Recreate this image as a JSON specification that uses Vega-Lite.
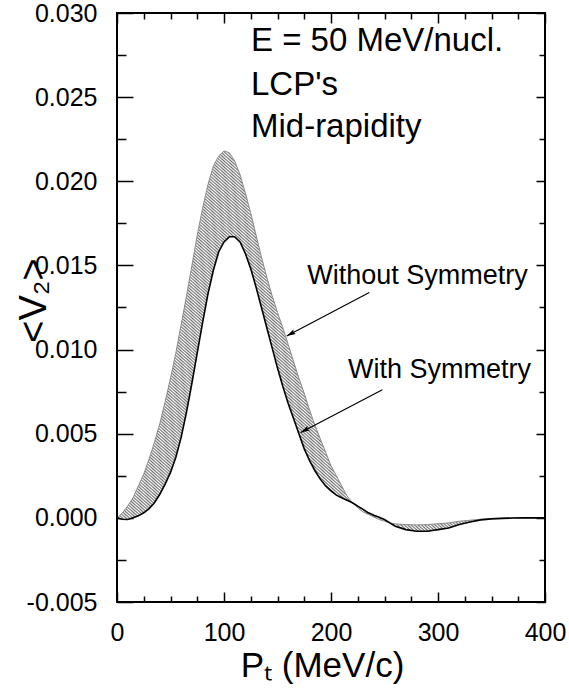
{
  "$schema": "https://vega.github.io/schema/vega-lite/v6.json",
  "width": 428,
  "height": 589,
  "autosize": {"type": "none"},
  "padding": {"left": 117, "top": 13, "right": 24, "bottom": 89},
  "background": "white",
  "config": {
    "font": "Liberation Sans",
    "view": {"stroke": "black", "strokeWidth": 2},
    "axis": {
      "grid": false,
      "domain": false,
      "zindex": 1,
      "tickColor": "black",
      "tickWidth": 1.5,
      "tickOpacity": 1,
      "labelColor": "black",
      "titleColor": "black",
      "labelFont": "Liberation Sans",
      "titleFont": "Liberation Sans",
      "titleFontWeight": "normal",
      "labelFlush": false,
      "labelOverlap": false,
      "labelBound": false
    }
  },
  "datasets": {
    "curves": [
      {"pt": 0, "with": 0.0, "without": 0.0},
      {"pt": 5, "with": -0.00008, "without": 0.0003},
      {"pt": 10, "with": -0.0001, "without": 0.0007},
      {"pt": 15, "with": 0.0, "without": 0.0012},
      {"pt": 20, "with": 0.00012, "without": 0.0019},
      {"pt": 25, "with": 0.0003, "without": 0.0026},
      {"pt": 30, "with": 0.00055, "without": 0.0035},
      {"pt": 35, "with": 0.0009, "without": 0.0045},
      {"pt": 40, "with": 0.0014, "without": 0.0056},
      {"pt": 45, "with": 0.002, "without": 0.0069},
      {"pt": 50, "with": 0.0027, "without": 0.0083},
      {"pt": 55, "with": 0.0036, "without": 0.0098},
      {"pt": 60, "with": 0.0048, "without": 0.0115},
      {"pt": 65, "with": 0.0063, "without": 0.0132},
      {"pt": 70, "with": 0.008, "without": 0.015},
      {"pt": 75, "with": 0.0098, "without": 0.0168},
      {"pt": 80, "with": 0.0116, "without": 0.0184},
      {"pt": 85, "with": 0.0133, "without": 0.0198},
      {"pt": 90, "with": 0.0147, "without": 0.0209},
      {"pt": 95, "with": 0.0158, "without": 0.0215},
      {"pt": 100, "with": 0.0164, "without": 0.0218},
      {"pt": 105, "with": 0.0167, "without": 0.0217},
      {"pt": 110, "with": 0.0167, "without": 0.0212},
      {"pt": 115, "with": 0.0164, "without": 0.0204},
      {"pt": 120, "with": 0.0157, "without": 0.0193},
      {"pt": 125, "with": 0.0148, "without": 0.0181},
      {"pt": 130, "with": 0.0137, "without": 0.0168},
      {"pt": 135, "with": 0.0125, "without": 0.0155},
      {"pt": 140, "with": 0.0113, "without": 0.0143},
      {"pt": 145, "with": 0.0101, "without": 0.0132},
      {"pt": 150, "with": 0.0089, "without": 0.0122},
      {"pt": 155, "with": 0.0078, "without": 0.0113},
      {"pt": 160, "with": 0.0068, "without": 0.0103},
      {"pt": 165, "with": 0.0059, "without": 0.0093},
      {"pt": 170, "with": 0.005, "without": 0.0083},
      {"pt": 175, "with": 0.0041, "without": 0.0074},
      {"pt": 180, "with": 0.0034, "without": 0.0064},
      {"pt": 185, "with": 0.0028, "without": 0.0055},
      {"pt": 190, "with": 0.0023, "without": 0.0047},
      {"pt": 195, "with": 0.0019, "without": 0.0039},
      {"pt": 200, "with": 0.0016, "without": 0.0031},
      {"pt": 205, "with": 0.00135, "without": 0.0025},
      {"pt": 210, "with": 0.0012, "without": 0.0019},
      {"pt": 215, "with": 0.00105, "without": 0.0013},
      {"pt": 220, "with": 0.0009, "without": 0.0009},
      {"pt": 225, "with": 0.0007, "without": 0.0006},
      {"pt": 230, "with": 0.0005, "without": 0.00035},
      {"pt": 235, "with": 0.0003, "without": 0.0002},
      {"pt": 240, "with": 0.00015, "without": 0.00005},
      {"pt": 245, "with": 0.00003, "without": -0.0001},
      {"pt": 250, "with": -0.0001, "without": -0.0002},
      {"pt": 255, "with": -0.0003, "without": -0.0003},
      {"pt": 260, "with": -0.0005, "without": -0.00036},
      {"pt": 270, "with": -0.0007, "without": -0.0004},
      {"pt": 280, "with": -0.0008, "without": -0.00042},
      {"pt": 290, "with": -0.0008, "without": -0.0004},
      {"pt": 300, "with": -0.0007, "without": -0.00035},
      {"pt": 310, "with": -0.0006, "without": -0.0003},
      {"pt": 320, "with": -0.0004, "without": -0.0002},
      {"pt": 330, "with": -0.00025, "without": -0.00014},
      {"pt": 340, "with": -0.00012, "without": -0.00008},
      {"pt": 350, "with": -0.00006, "without": -0.00004},
      {"pt": 360, "with": -0.00003, "without": -0.00002},
      {"pt": 370, "with": -0.00001, "without": 0.0},
      {"pt": 380, "with": 0.0, "without": 0.0},
      {"pt": 390, "with": 0.0, "without": 0.0},
      {"pt": 400, "with": 0.0, "without": 0.0}
    ],
    "info": [
      {"x": 125.2, "y": 0.02776, "text": "E = 50 MeV/nucl."},
      {"x": 125.2, "y": 0.02513, "text": "LCP's"},
      {"x": 125.2, "y": 0.02263, "text": "Mid-rapidity"}
    ],
    "labels": [
      {"x": 280.8, "y": 0.01389, "text": "Without Symmetry"},
      {"x": 301.4, "y": 0.0083, "text": "With Symmetry"}
    ],
    "arrows": [
      {"x": 235.8, "y": 0.01339, "x2": 158.6, "y2": 0.01081},
      {"x": 248.0, "y": 0.00761, "x2": 171.7, "y2": 0.00507}
    ]
  },
  "layer": [
    {
      "data": {"name": "curves"},
      "mark": {"type": "area", "stroke": null, "fill": {"gradient": "linear", "x1": 0, "y1": 1, "x2": 1, "y2": 0, "stops": [
{"offset":0.000,"color":"#707070"},{"offset":0.002,"color":"#fff"},{"offset":0.004,"color":"#707070"},{"offset":0.006,"color":"#fff"},{"offset":0.008,"color":"#707070"},{"offset":0.010,"color":"#fff"},{"offset":0.012,"color":"#707070"},{"offset":0.014,"color":"#fff"},{"offset":0.016,"color":"#707070"},{"offset":0.018,"color":"#fff"},
{"offset":0.020,"color":"#707070"},{"offset":0.022,"color":"#fff"},{"offset":0.024,"color":"#707070"},{"offset":0.026,"color":"#fff"},{"offset":0.028,"color":"#707070"},{"offset":0.030,"color":"#fff"},{"offset":0.032,"color":"#707070"},{"offset":0.034,"color":"#fff"},{"offset":0.036,"color":"#707070"},{"offset":0.038,"color":"#fff"},
{"offset":0.040,"color":"#707070"},{"offset":0.042,"color":"#fff"},{"offset":0.044,"color":"#707070"},{"offset":0.046,"color":"#fff"},{"offset":0.048,"color":"#707070"},{"offset":0.050,"color":"#fff"},{"offset":0.052,"color":"#707070"},{"offset":0.054,"color":"#fff"},{"offset":0.056,"color":"#707070"},{"offset":0.058,"color":"#fff"},
{"offset":0.060,"color":"#707070"},{"offset":0.062,"color":"#fff"},{"offset":0.064,"color":"#707070"},{"offset":0.066,"color":"#fff"},{"offset":0.068,"color":"#707070"},{"offset":0.070,"color":"#fff"},{"offset":0.072,"color":"#707070"},{"offset":0.074,"color":"#fff"},{"offset":0.076,"color":"#707070"},{"offset":0.078,"color":"#fff"},
{"offset":0.080,"color":"#707070"},{"offset":0.082,"color":"#fff"},{"offset":0.084,"color":"#707070"},{"offset":0.086,"color":"#fff"},{"offset":0.088,"color":"#707070"},{"offset":0.090,"color":"#fff"},{"offset":0.092,"color":"#707070"},{"offset":0.094,"color":"#fff"},{"offset":0.096,"color":"#707070"},{"offset":0.098,"color":"#fff"},
{"offset":0.100,"color":"#707070"},{"offset":0.102,"color":"#fff"},{"offset":0.104,"color":"#707070"},{"offset":0.106,"color":"#fff"},{"offset":0.108,"color":"#707070"},{"offset":0.110,"color":"#fff"},{"offset":0.112,"color":"#707070"},{"offset":0.114,"color":"#fff"},{"offset":0.116,"color":"#707070"},{"offset":0.118,"color":"#fff"},
{"offset":0.120,"color":"#707070"},{"offset":0.122,"color":"#fff"},{"offset":0.124,"color":"#707070"},{"offset":0.126,"color":"#fff"},{"offset":0.128,"color":"#707070"},{"offset":0.130,"color":"#fff"},{"offset":0.132,"color":"#707070"},{"offset":0.134,"color":"#fff"},{"offset":0.136,"color":"#707070"},{"offset":0.138,"color":"#fff"},
{"offset":0.140,"color":"#707070"},{"offset":0.142,"color":"#fff"},{"offset":0.144,"color":"#707070"},{"offset":0.146,"color":"#fff"},{"offset":0.148,"color":"#707070"},{"offset":0.150,"color":"#fff"},{"offset":0.152,"color":"#707070"},{"offset":0.154,"color":"#fff"},{"offset":0.156,"color":"#707070"},{"offset":0.158,"color":"#fff"},
{"offset":0.160,"color":"#707070"},{"offset":0.162,"color":"#fff"},{"offset":0.164,"color":"#707070"},{"offset":0.166,"color":"#fff"},{"offset":0.168,"color":"#707070"},{"offset":0.170,"color":"#fff"},{"offset":0.172,"color":"#707070"},{"offset":0.174,"color":"#fff"},{"offset":0.176,"color":"#707070"},{"offset":0.178,"color":"#fff"},
{"offset":0.180,"color":"#707070"},{"offset":0.182,"color":"#fff"},{"offset":0.184,"color":"#707070"},{"offset":0.186,"color":"#fff"},{"offset":0.188,"color":"#707070"},{"offset":0.190,"color":"#fff"},{"offset":0.192,"color":"#707070"},{"offset":0.194,"color":"#fff"},{"offset":0.196,"color":"#707070"},{"offset":0.198,"color":"#fff"},
{"offset":0.200,"color":"#707070"},{"offset":0.202,"color":"#fff"},{"offset":0.204,"color":"#707070"},{"offset":0.206,"color":"#fff"},{"offset":0.208,"color":"#707070"},{"offset":0.210,"color":"#fff"},{"offset":0.212,"color":"#707070"},{"offset":0.214,"color":"#fff"},{"offset":0.216,"color":"#707070"},{"offset":0.218,"color":"#fff"},
{"offset":0.220,"color":"#707070"},{"offset":0.222,"color":"#fff"},{"offset":0.224,"color":"#707070"},{"offset":0.226,"color":"#fff"},{"offset":0.228,"color":"#707070"},{"offset":0.230,"color":"#fff"},{"offset":0.232,"color":"#707070"},{"offset":0.234,"color":"#fff"},{"offset":0.236,"color":"#707070"},{"offset":0.238,"color":"#fff"},
{"offset":0.240,"color":"#707070"},{"offset":0.242,"color":"#fff"},{"offset":0.244,"color":"#707070"},{"offset":0.246,"color":"#fff"},{"offset":0.248,"color":"#707070"},{"offset":0.250,"color":"#fff"},{"offset":0.252,"color":"#707070"},{"offset":0.254,"color":"#fff"},{"offset":0.256,"color":"#707070"},{"offset":0.258,"color":"#fff"},
{"offset":0.260,"color":"#707070"},{"offset":0.262,"color":"#fff"},{"offset":0.264,"color":"#707070"},{"offset":0.266,"color":"#fff"},{"offset":0.268,"color":"#707070"},{"offset":0.270,"color":"#fff"},{"offset":0.272,"color":"#707070"},{"offset":0.274,"color":"#fff"},{"offset":0.276,"color":"#707070"},{"offset":0.278,"color":"#fff"},
{"offset":0.280,"color":"#707070"},{"offset":0.282,"color":"#fff"},{"offset":0.284,"color":"#707070"},{"offset":0.286,"color":"#fff"},{"offset":0.288,"color":"#707070"},{"offset":0.290,"color":"#fff"},{"offset":0.292,"color":"#707070"},{"offset":0.294,"color":"#fff"},{"offset":0.296,"color":"#707070"},{"offset":0.298,"color":"#fff"},
{"offset":0.300,"color":"#707070"},{"offset":0.302,"color":"#fff"},{"offset":0.304,"color":"#707070"},{"offset":0.306,"color":"#fff"},{"offset":0.308,"color":"#707070"},{"offset":0.310,"color":"#fff"},{"offset":0.312,"color":"#707070"},{"offset":0.314,"color":"#fff"},{"offset":0.316,"color":"#707070"},{"offset":0.318,"color":"#fff"},
{"offset":0.320,"color":"#707070"},{"offset":0.322,"color":"#fff"},{"offset":0.324,"color":"#707070"},{"offset":0.326,"color":"#fff"},{"offset":0.328,"color":"#707070"},{"offset":0.330,"color":"#fff"},{"offset":0.332,"color":"#707070"},{"offset":0.334,"color":"#fff"},{"offset":0.336,"color":"#707070"},{"offset":0.338,"color":"#fff"},
{"offset":0.340,"color":"#707070"},{"offset":0.342,"color":"#fff"},{"offset":0.344,"color":"#707070"},{"offset":0.346,"color":"#fff"},{"offset":0.348,"color":"#707070"},{"offset":0.350,"color":"#fff"},{"offset":0.352,"color":"#707070"},{"offset":0.354,"color":"#fff"},{"offset":0.356,"color":"#707070"},{"offset":0.358,"color":"#fff"},
{"offset":0.360,"color":"#707070"},{"offset":0.362,"color":"#fff"},{"offset":0.364,"color":"#707070"},{"offset":0.366,"color":"#fff"},{"offset":0.368,"color":"#707070"},{"offset":0.370,"color":"#fff"},{"offset":0.372,"color":"#707070"},{"offset":0.374,"color":"#fff"},{"offset":0.376,"color":"#707070"},{"offset":0.378,"color":"#fff"},
{"offset":0.380,"color":"#707070"},{"offset":0.382,"color":"#fff"},{"offset":0.384,"color":"#707070"},{"offset":0.386,"color":"#fff"},{"offset":0.388,"color":"#707070"},{"offset":0.390,"color":"#fff"},{"offset":0.392,"color":"#707070"},{"offset":0.394,"color":"#fff"},{"offset":0.396,"color":"#707070"},{"offset":0.398,"color":"#fff"},
{"offset":0.400,"color":"#707070"},{"offset":0.402,"color":"#fff"},{"offset":0.404,"color":"#707070"},{"offset":0.406,"color":"#fff"},{"offset":0.408,"color":"#707070"},{"offset":0.410,"color":"#fff"},{"offset":0.412,"color":"#707070"},{"offset":0.414,"color":"#fff"},{"offset":0.416,"color":"#707070"},{"offset":0.418,"color":"#fff"},
{"offset":0.420,"color":"#707070"},{"offset":0.422,"color":"#fff"},{"offset":0.424,"color":"#707070"},{"offset":0.426,"color":"#fff"},{"offset":0.428,"color":"#707070"},{"offset":0.430,"color":"#fff"},{"offset":0.432,"color":"#707070"},{"offset":0.434,"color":"#fff"},{"offset":0.436,"color":"#707070"},{"offset":0.438,"color":"#fff"},
{"offset":0.440,"color":"#707070"},{"offset":0.442,"color":"#fff"},{"offset":0.444,"color":"#707070"},{"offset":0.446,"color":"#fff"},{"offset":0.448,"color":"#707070"},{"offset":0.450,"color":"#fff"},{"offset":0.452,"color":"#707070"},{"offset":0.454,"color":"#fff"},{"offset":0.456,"color":"#707070"},{"offset":0.458,"color":"#fff"},
{"offset":0.460,"color":"#707070"},{"offset":0.462,"color":"#fff"},{"offset":0.464,"color":"#707070"},{"offset":0.466,"color":"#fff"},{"offset":0.468,"color":"#707070"},{"offset":0.470,"color":"#fff"},{"offset":0.472,"color":"#707070"},{"offset":0.474,"color":"#fff"},{"offset":0.476,"color":"#707070"},{"offset":0.478,"color":"#fff"},
{"offset":0.480,"color":"#707070"},{"offset":0.482,"color":"#fff"},{"offset":0.484,"color":"#707070"},{"offset":0.486,"color":"#fff"},{"offset":0.488,"color":"#707070"},{"offset":0.490,"color":"#fff"},{"offset":0.492,"color":"#707070"},{"offset":0.494,"color":"#fff"},{"offset":0.496,"color":"#707070"},{"offset":0.498,"color":"#fff"},
{"offset":0.500,"color":"#707070"},{"offset":0.502,"color":"#fff"},{"offset":0.504,"color":"#707070"},{"offset":0.506,"color":"#fff"},{"offset":0.508,"color":"#707070"},{"offset":0.510,"color":"#fff"},{"offset":0.512,"color":"#707070"},{"offset":0.514,"color":"#fff"},{"offset":0.516,"color":"#707070"},{"offset":0.518,"color":"#fff"},
{"offset":0.520,"color":"#707070"},{"offset":0.522,"color":"#fff"},{"offset":0.524,"color":"#707070"},{"offset":0.526,"color":"#fff"},{"offset":0.528,"color":"#707070"},{"offset":0.530,"color":"#fff"},{"offset":0.532,"color":"#707070"},{"offset":0.534,"color":"#fff"},{"offset":0.536,"color":"#707070"},{"offset":0.538,"color":"#fff"},
{"offset":0.540,"color":"#707070"},{"offset":0.542,"color":"#fff"},{"offset":0.544,"color":"#707070"},{"offset":0.546,"color":"#fff"},{"offset":0.548,"color":"#707070"},{"offset":0.550,"color":"#fff"},{"offset":0.552,"color":"#707070"},{"offset":0.554,"color":"#fff"},{"offset":0.556,"color":"#707070"},{"offset":0.558,"color":"#fff"},
{"offset":0.560,"color":"#707070"},{"offset":0.562,"color":"#fff"},{"offset":0.564,"color":"#707070"},{"offset":0.566,"color":"#fff"},{"offset":0.568,"color":"#707070"},{"offset":0.570,"color":"#fff"},{"offset":0.572,"color":"#707070"},{"offset":0.574,"color":"#fff"},{"offset":0.576,"color":"#707070"},{"offset":0.578,"color":"#fff"},
{"offset":0.580,"color":"#707070"},{"offset":0.582,"color":"#fff"},{"offset":0.584,"color":"#707070"},{"offset":0.586,"color":"#fff"},{"offset":0.588,"color":"#707070"},{"offset":0.590,"color":"#fff"},{"offset":0.592,"color":"#707070"},{"offset":0.594,"color":"#fff"},{"offset":0.596,"color":"#707070"},{"offset":0.598,"color":"#fff"},
{"offset":0.600,"color":"#707070"},{"offset":0.602,"color":"#fff"},{"offset":0.604,"color":"#707070"},{"offset":0.606,"color":"#fff"},{"offset":0.608,"color":"#707070"},{"offset":0.610,"color":"#fff"},{"offset":0.612,"color":"#707070"},{"offset":0.614,"color":"#fff"},{"offset":0.616,"color":"#707070"},{"offset":0.618,"color":"#fff"},
{"offset":0.620,"color":"#707070"},{"offset":0.622,"color":"#fff"},{"offset":0.624,"color":"#707070"},{"offset":0.626,"color":"#fff"},{"offset":0.628,"color":"#707070"},{"offset":0.630,"color":"#fff"},{"offset":0.632,"color":"#707070"},{"offset":0.634,"color":"#fff"},{"offset":0.636,"color":"#707070"},{"offset":0.638,"color":"#fff"},
{"offset":0.640,"color":"#707070"},{"offset":0.642,"color":"#fff"},{"offset":0.644,"color":"#707070"},{"offset":0.646,"color":"#fff"},{"offset":0.648,"color":"#707070"},{"offset":0.650,"color":"#fff"},{"offset":0.652,"color":"#707070"},{"offset":0.654,"color":"#fff"},{"offset":0.656,"color":"#707070"},{"offset":0.658,"color":"#fff"},
{"offset":0.660,"color":"#707070"},{"offset":0.662,"color":"#fff"},{"offset":0.664,"color":"#707070"},{"offset":0.666,"color":"#fff"},{"offset":0.668,"color":"#707070"},{"offset":0.670,"color":"#fff"},{"offset":0.672,"color":"#707070"},{"offset":0.674,"color":"#fff"},{"offset":0.676,"color":"#707070"},{"offset":0.678,"color":"#fff"},
{"offset":0.680,"color":"#707070"},{"offset":0.682,"color":"#fff"},{"offset":0.684,"color":"#707070"},{"offset":0.686,"color":"#fff"},{"offset":0.688,"color":"#707070"},{"offset":0.690,"color":"#fff"},{"offset":0.692,"color":"#707070"},{"offset":0.694,"color":"#fff"},{"offset":0.696,"color":"#707070"},{"offset":0.698,"color":"#fff"},
{"offset":0.700,"color":"#707070"},{"offset":0.702,"color":"#fff"},{"offset":0.704,"color":"#707070"},{"offset":0.706,"color":"#fff"},{"offset":0.708,"color":"#707070"},{"offset":0.710,"color":"#fff"},{"offset":0.712,"color":"#707070"},{"offset":0.714,"color":"#fff"},{"offset":0.716,"color":"#707070"},{"offset":0.718,"color":"#fff"},
{"offset":0.720,"color":"#707070"},{"offset":0.722,"color":"#fff"},{"offset":0.724,"color":"#707070"},{"offset":0.726,"color":"#fff"},{"offset":0.728,"color":"#707070"},{"offset":0.730,"color":"#fff"},{"offset":0.732,"color":"#707070"},{"offset":0.734,"color":"#fff"},{"offset":0.736,"color":"#707070"},{"offset":0.738,"color":"#fff"},
{"offset":0.740,"color":"#707070"},{"offset":0.742,"color":"#fff"},{"offset":0.744,"color":"#707070"},{"offset":0.746,"color":"#fff"},{"offset":0.748,"color":"#707070"},{"offset":0.750,"color":"#fff"},{"offset":0.752,"color":"#707070"},{"offset":0.754,"color":"#fff"},{"offset":0.756,"color":"#707070"},{"offset":0.758,"color":"#fff"},
{"offset":0.760,"color":"#707070"},{"offset":0.762,"color":"#fff"},{"offset":0.764,"color":"#707070"},{"offset":0.766,"color":"#fff"},{"offset":0.768,"color":"#707070"},{"offset":0.770,"color":"#fff"},{"offset":0.772,"color":"#707070"},{"offset":0.774,"color":"#fff"},{"offset":0.776,"color":"#707070"},{"offset":0.778,"color":"#fff"},
{"offset":0.780,"color":"#707070"},{"offset":0.782,"color":"#fff"},{"offset":0.784,"color":"#707070"},{"offset":0.786,"color":"#fff"},{"offset":0.788,"color":"#707070"},{"offset":0.790,"color":"#fff"},{"offset":0.792,"color":"#707070"},{"offset":0.794,"color":"#fff"},{"offset":0.796,"color":"#707070"},{"offset":0.798,"color":"#fff"},
{"offset":0.800,"color":"#707070"},{"offset":0.802,"color":"#fff"},{"offset":0.804,"color":"#707070"},{"offset":0.806,"color":"#fff"},{"offset":0.808,"color":"#707070"},{"offset":0.810,"color":"#fff"},{"offset":0.812,"color":"#707070"},{"offset":0.814,"color":"#fff"},{"offset":0.816,"color":"#707070"},{"offset":0.818,"color":"#fff"},
{"offset":0.820,"color":"#707070"},{"offset":0.822,"color":"#fff"},{"offset":0.824,"color":"#707070"},{"offset":0.826,"color":"#fff"},{"offset":0.828,"color":"#707070"},{"offset":0.830,"color":"#fff"},{"offset":0.832,"color":"#707070"},{"offset":0.834,"color":"#fff"},{"offset":0.836,"color":"#707070"},{"offset":0.838,"color":"#fff"},
{"offset":0.840,"color":"#707070"},{"offset":0.842,"color":"#fff"},{"offset":0.844,"color":"#707070"},{"offset":0.846,"color":"#fff"},{"offset":0.848,"color":"#707070"},{"offset":0.850,"color":"#fff"},{"offset":0.852,"color":"#707070"},{"offset":0.854,"color":"#fff"},{"offset":0.856,"color":"#707070"},{"offset":0.858,"color":"#fff"},
{"offset":0.860,"color":"#707070"},{"offset":0.862,"color":"#fff"},{"offset":0.864,"color":"#707070"},{"offset":0.866,"color":"#fff"},{"offset":0.868,"color":"#707070"},{"offset":0.870,"color":"#fff"},{"offset":0.872,"color":"#707070"},{"offset":0.874,"color":"#fff"},{"offset":0.876,"color":"#707070"},{"offset":0.878,"color":"#fff"},
{"offset":0.880,"color":"#707070"},{"offset":0.882,"color":"#fff"},{"offset":0.884,"color":"#707070"},{"offset":0.886,"color":"#fff"},{"offset":0.888,"color":"#707070"},{"offset":0.890,"color":"#fff"},{"offset":0.892,"color":"#707070"},{"offset":0.894,"color":"#fff"},{"offset":0.896,"color":"#707070"},{"offset":0.898,"color":"#fff"},
{"offset":0.900,"color":"#707070"},{"offset":0.902,"color":"#fff"},{"offset":0.904,"color":"#707070"},{"offset":0.906,"color":"#fff"},{"offset":0.908,"color":"#707070"},{"offset":0.910,"color":"#fff"},{"offset":0.912,"color":"#707070"},{"offset":0.914,"color":"#fff"},{"offset":0.916,"color":"#707070"},{"offset":0.918,"color":"#fff"},
{"offset":0.920,"color":"#707070"},{"offset":0.922,"color":"#fff"},{"offset":0.924,"color":"#707070"},{"offset":0.926,"color":"#fff"},{"offset":0.928,"color":"#707070"},{"offset":0.930,"color":"#fff"},{"offset":0.932,"color":"#707070"},{"offset":0.934,"color":"#fff"},{"offset":0.936,"color":"#707070"},{"offset":0.938,"color":"#fff"},
{"offset":0.940,"color":"#707070"},{"offset":0.942,"color":"#fff"},{"offset":0.944,"color":"#707070"},{"offset":0.946,"color":"#fff"},{"offset":0.948,"color":"#707070"},{"offset":0.950,"color":"#fff"},{"offset":0.952,"color":"#707070"},{"offset":0.954,"color":"#fff"},{"offset":0.956,"color":"#707070"},{"offset":0.958,"color":"#fff"},
{"offset":0.960,"color":"#707070"},{"offset":0.962,"color":"#fff"},{"offset":0.964,"color":"#707070"},{"offset":0.966,"color":"#fff"},{"offset":0.968,"color":"#707070"},{"offset":0.970,"color":"#fff"},{"offset":0.972,"color":"#707070"},{"offset":0.974,"color":"#fff"},{"offset":0.976,"color":"#707070"},{"offset":0.978,"color":"#fff"},
{"offset":0.980,"color":"#707070"},{"offset":0.982,"color":"#fff"},{"offset":0.984,"color":"#707070"},{"offset":0.986,"color":"#fff"},{"offset":0.988,"color":"#707070"},{"offset":0.990,"color":"#fff"},{"offset":0.992,"color":"#707070"},{"offset":0.994,"color":"#fff"},{"offset":0.996,"color":"#707070"},{"offset":0.998,"color":"#fff"},
{"offset":1.000,"color":"#707070"}
      ]}},
      "encoding": {
        "x": {
          "field": "pt", "type": "quantitative",
          "scale": {"domain": [0, 400], "nice": false, "zero": false},
          "axis": {
            "orient": "bottom",
            "values": [0, 25, 50, 75, 100, 125, 150, 175, 200, 225, 250, 275, 300, 325, 350, 375, 400],
            "labelExpr": "datum.value % 100 === 0 ? format(datum.value, 'd') : ''",
            "tickSize": {"condition": {"test": "datum.value % 100 === 0", "value": -10}, "value": -6},
            "labelPadding": 28,
            "labelFontSize": 25,
            "title": "Pₜ (MeV/c)",
            "titleFontSize": 35,
            "titleX": 205,
            "titleY": 74,
            "titleBaseline": "alphabetic",
            "titleAlign": "center"
          }
        },
        "y": {
          "field": "without", "type": "quantitative",
          "scale": {"domain": [-0.005, 0.03], "nice": false, "zero": false},
          "axis": {
            "orient": "left",
            "values": [-0.005, -0.0025, 0, 0.0025, 0.005, 0.0075, 0.01, 0.0125, 0.015, 0.0175, 0.02, 0.0225, 0.025, 0.0275, 0.03],
            "labelExpr": "round(datum.value * 10000) % 50 === 0 ? replace(format(datum.value, '.3f'), '−', '-') : ''",
            "tickSize": {"condition": {"test": "round(datum.value * 10000) % 50 === 0", "value": -16}, "value": -9},
            "labelPadding": 36,
            "labelFontSize": 25,
            "title": "<V₂>",
            "titleFontSize": 38,
            "titleAngle": -90,
            "titleX": -72,
            "titleY": 287,
            "titleBaseline": "alphabetic",
            "titleAlign": "center"
          }
        },
        "y2": {"field": "with"}
      }
    },
    {
      "data": {"name": "curves"},
      "mark": {"type": "line", "stroke": "#8c8c8c", "strokeWidth": 1},
      "encoding": {
        "x": {
          "field": "pt", "type": "quantitative",
          "scale": {"domain": [0, 400], "nice": false, "zero": false},
          "axis": {
            "orient": "top",
            "values": [0, 25, 50, 75, 100, 125, 150, 175, 200, 225, 250, 275, 300, 325, 350, 375, 400],
            "labels": false,
            "tickSize": {"condition": {"test": "datum.value % 100 === 0", "value": -10}, "value": -6},
            "title": null
          }
        },
        "y": {
          "field": "without", "type": "quantitative",
          "scale": {"domain": [-0.005, 0.03], "nice": false, "zero": false},
          "axis": {
            "orient": "right",
            "values": [-0.005, -0.0025, 0, 0.0025, 0.005, 0.0075, 0.01, 0.0125, 0.015, 0.0175, 0.02, 0.0225, 0.025, 0.0275, 0.03],
            "labels": false,
            "tickSize": {"condition": {"test": "round(datum.value * 10000) % 50 === 0", "value": -9}, "value": -6},
            "title": null
          }
        }
      }
    },
    {
      "data": {"name": "curves"},
      "mark": {"type": "line", "stroke": "black", "strokeWidth": 1.6},
      "encoding": {
        "x": {"field": "pt", "type": "quantitative", "scale": {"domain": [0, 400], "nice": false, "zero": false}, "axis": null},
        "y": {"field": "with", "type": "quantitative", "scale": {"domain": [-0.005, 0.03], "nice": false, "zero": false}, "axis": null}
      }
    },
    {
      "mark": {"type": "rule", "stroke": "black", "strokeWidth": 1},
      "encoding": {
        "y": {"datum": 0, "type": "quantitative", "scale": {"domain": [-0.005, 0.03], "nice": false, "zero": false}, "axis": null}
      }
    },
    {
      "data": {"name": "arrows"},
      "mark": {"type": "rule", "stroke": "black", "strokeWidth": 1.2},
      "encoding": {
        "x": {"field": "x", "type": "quantitative", "scale": {"domain": [0, 400], "nice": false, "zero": false}, "axis": null},
        "y": {"field": "y", "type": "quantitative", "scale": {"domain": [-0.005, 0.03], "nice": false, "zero": false}, "axis": null},
        "x2": {"field": "x2"},
        "y2": {"field": "y2"}
      }
    },
    {
      "data": {"name": "arrows"},
      "mark": {"type": "point", "shape": "M0,0L0.55,1.9L0,1.6L-0.55,1.9Z", "size": 90, "filled": true, "color": "black", "opacity": 1, "angle": 242},
      "encoding": {
        "x": {"field": "x2", "type": "quantitative", "scale": {"domain": [0, 400], "nice": false, "zero": false}, "axis": null},
        "y": {"field": "y2", "type": "quantitative", "scale": {"domain": [-0.005, 0.03], "nice": false, "zero": false}, "axis": null}
      }
    },
    {
      "data": {"name": "info"},
      "mark": {"type": "text", "align": "left", "baseline": "alphabetic", "fontSize": 33, "font": "Liberation Sans", "color": "black"},
      "encoding": {
        "x": {"field": "x", "type": "quantitative", "scale": {"domain": [0, 400], "nice": false, "zero": false}, "axis": null},
        "y": {"field": "y", "type": "quantitative", "scale": {"domain": [-0.005, 0.03], "nice": false, "zero": false}, "axis": null},
        "text": {"field": "text"}
      }
    },
    {
      "data": {"name": "labels"},
      "mark": {"type": "text", "align": "center", "baseline": "alphabetic", "fontSize": 27, "font": "Liberation Sans", "color": "black"},
      "encoding": {
        "x": {"field": "x", "type": "quantitative", "scale": {"domain": [0, 400], "nice": false, "zero": false}, "axis": null},
        "y": {"field": "y", "type": "quantitative", "scale": {"domain": [-0.005, 0.03], "nice": false, "zero": false}, "axis": null},
        "text": {"field": "text"}
      }
    }
  ],
  "resolve": {"axis": {"x": "independent", "y": "independent"}}
}
